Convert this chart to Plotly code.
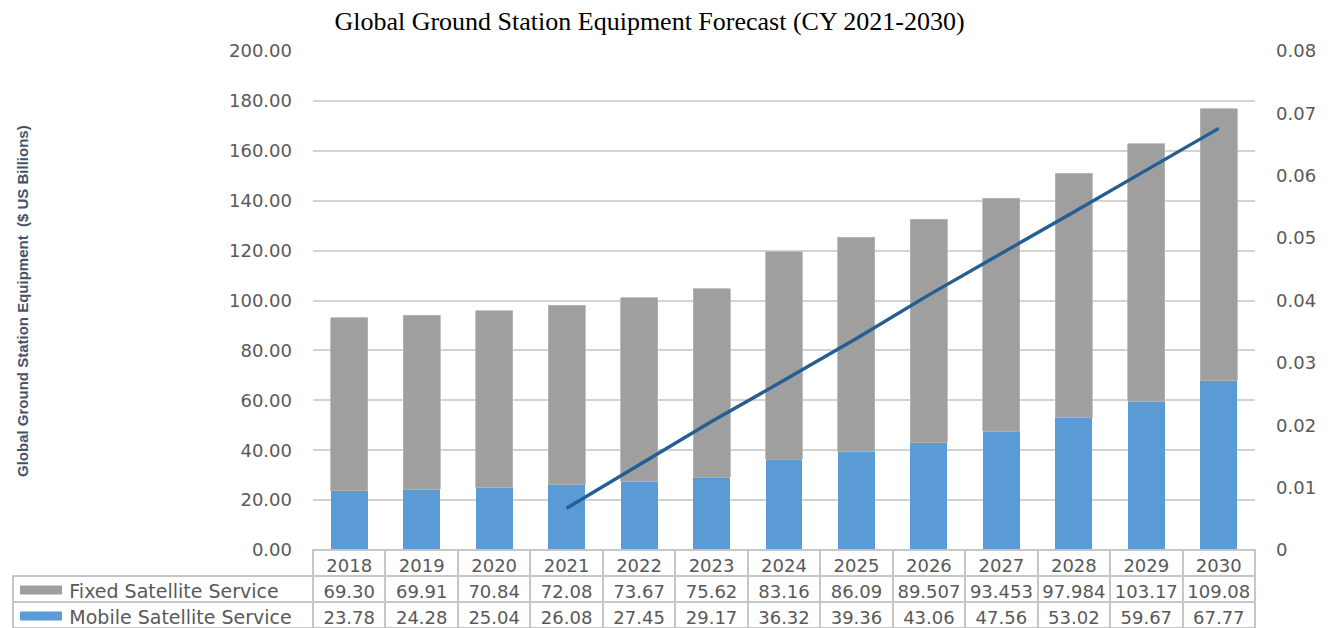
import plotly.graph_objects as go

# --- data -------------------------------------------------------------
years = ["2018", "2019", "2020", "2021", "2022", "2023", "2024",
         "2025", "2026", "2027", "2028", "2029", "2030"]
fixed_service = [69.30, 69.91, 70.84, 72.08, 73.67, 75.62, 83.16,
                 86.09, 89.507, 93.453, 97.984, 103.17, 109.08]
fixed_labels = ["69.30", "69.91", "70.84", "72.08", "73.67", "75.62", "83.16",
                "86.09", "89.507", "93.453", "97.984", "103.17", "109.08"]
mobile_service = [23.78, 24.28, 25.04, 26.08, 27.45, 29.17, 36.32,
                  39.36, 43.06, 47.56, 53.02, 59.67, 67.77]
mobile_labels = ["23.78", "24.28", "25.04", "26.08", "27.45", "29.17", "36.32",
                 "39.36", "43.06", "47.56", "53.02", "59.67", "67.77"]
trend_years = ["2021", "2022", "2023", "2024", "2025",
               "2026", "2027", "2028", "2029", "2030"]
trend_values = [0.0067, 0.0136, 0.0206, 0.0272, 0.0339,
                0.0409, 0.0475, 0.0542, 0.0609, 0.0676]
left_ticks = [0, 20, 40, 60, 80, 100, 120, 140, 160, 180, 200]
right_ticks = [0, 0.01, 0.02, 0.03, 0.04, 0.05, 0.06, 0.07, 0.08]
right_tick_text = ["0", "0.01", "0.02", "0.03", "0.04", "0.05", "0.06", "0.07", "0.08"]

# --- layout geometry (pixels) -----------------------------------------
W, H = 1337, 628
ML, MR, MT, MB = 13, 82, 51, 0
PW, PH = W - ML - MR, H - MT - MB
FIRST_COL = 300           # width of the series-name column of the table
HEADER_H, ROW_H = 26, 26
TABLE_H = HEADER_H + 2 * ROW_H


def px_x(x):
    return (x - ML) / PW


def px_y(y):
    return (H - MB - y) / PH


TICK_COLOR = "#595959"
GRID_COLOR = "#d3d3d3"
TABLE_LINE = "#c6c6c6"
GRAY = "#9f9f9f"
BLUE = "#5b9bd5"
LINE_BLUE = "#255e91"
CLEAR = "rgba(0,0,0,0)"

fig = go.Figure()

fig.add_trace(go.Bar(
    x=years, y=mobile_service, name="Mobile Satellite Service",
    marker=dict(color=BLUE, line=dict(width=0)),
    xaxis="x", yaxis="y",
))
fig.add_trace(go.Bar(
    x=years, y=fixed_service, name="Fixed Satellite Service",
    marker=dict(color=GRAY, line=dict(width=0.8, color="#b5b5b5")),
    xaxis="x", yaxis="y",
))
fig.add_trace(go.Scatter(
    x=trend_years, y=trend_values, mode="lines",
    line=dict(color=LINE_BLUE, width=3.4),
    xaxis="x", yaxis="y2", showlegend=False,
))

# data table underneath the plot
nbsp = "\u00a0"
col_widths = [FIRST_COL] + [(PW - FIRST_COL) / len(years)] * len(years)
first_col = [nbsp * 8 + "Fixed Satellite Service",
             nbsp * 8 + "Mobile Satellite Service"]
cell_values = [first_col] + [[f, m] for f, m in zip(fixed_labels, mobile_labels)]

fig.add_trace(go.Table(
    domain=dict(x=[0, 1], y=[0, TABLE_H / PH]),
    columnwidth=col_widths,
    header=dict(
        values=[""] + years,
        height=HEADER_H,
        align="center",
        fill=dict(color=[CLEAR] + ["white"] * len(years)),
        line=dict(color=[CLEAR] + [TABLE_LINE] * len(years), width=2),
        font=dict(family="DejaVu Sans", size=18, color=TICK_COLOR),
    ),
    cells=dict(
        values=cell_values,
        height=ROW_H,
        align=["left"] + ["center"] * len(years),
        fill=dict(color="white"),
        line=dict(color=TABLE_LINE, width=2),
        font=dict(family="DejaVu Sans", size=[19] + [18] * len(years),
                  color=TICK_COLOR),
    ),
))

# legend keys inside the series-name column
shapes = []
for row, color in enumerate([GRAY, BLUE]):
    yc = H - TABLE_H + HEADER_H + ROW_H * row + ROW_H / 2 + 1
    shapes.append(dict(
        type="rect", xref="paper", yref="paper",
        x0=px_x(20), x1=px_x(62), y0=px_y(yc + 4.5), y1=px_y(yc - 4.5),
        fillcolor=color, line=dict(width=0), layer="above",
    ))

fig.update_layout(
    width=W, height=H,
    margin=dict(l=ML, r=MR, t=MT, b=MB, pad=0, autoexpand=False),
    paper_bgcolor="white", plot_bgcolor="white",
    barmode="stack", bargap=0.49,
    showlegend=False,
    title=dict(
        text="Global Ground Station Equipment Forecast (CY 2021-2030)",
        x=649.5 / W, xanchor="center", xref="container",
        y=1 - 21 / H, yanchor="middle", yref="container",
        font=dict(family="Liberation Serif", size=26, color="black"),
    ),
    xaxis=dict(
        domain=[px_x(ML + FIRST_COL), 1], automargin=False,
        type="category", showticklabels=False, showgrid=False,
        zeroline=False, showline=False, ticks="",
    ),
    yaxis=dict(
        domain=[TABLE_H / PH, 1], automargin=False,
        range=[0, 200], tickvals=left_ticks, tickformat=".2f",
        showgrid=True, gridcolor=GRID_COLOR, gridwidth=2,
        zeroline=False, showline=False, ticks="",
        ticklabelstandoff=20,
        tickfont=dict(family="DejaVu Sans", size=18, color=TICK_COLOR),
    ),
    yaxis2=dict(
        overlaying="y", side="right", anchor="x", automargin=False,
        range=[0, 0.08], tickvals=right_ticks, ticktext=right_tick_text,
        showgrid=False, zeroline=False, showline=False, ticks="",
        ticklabelstandoff=20,
        tickfont=dict(family="DejaVu Sans", size=18, color=TICK_COLOR),
    ),
    shapes=shapes,
    annotations=[dict(
        text="Global Ground Station Equipment  ($ US Billions)",
        xref="paper", yref="paper",
        x=px_x(22), y=px_y(301), xanchor="center", yanchor="middle",
        textangle=-90, showarrow=False,
        font=dict(family="Liberation Sans", size=15,
                  color="#44546a", weight="bold"),
    )],
)

fig.write_html("out.html")
